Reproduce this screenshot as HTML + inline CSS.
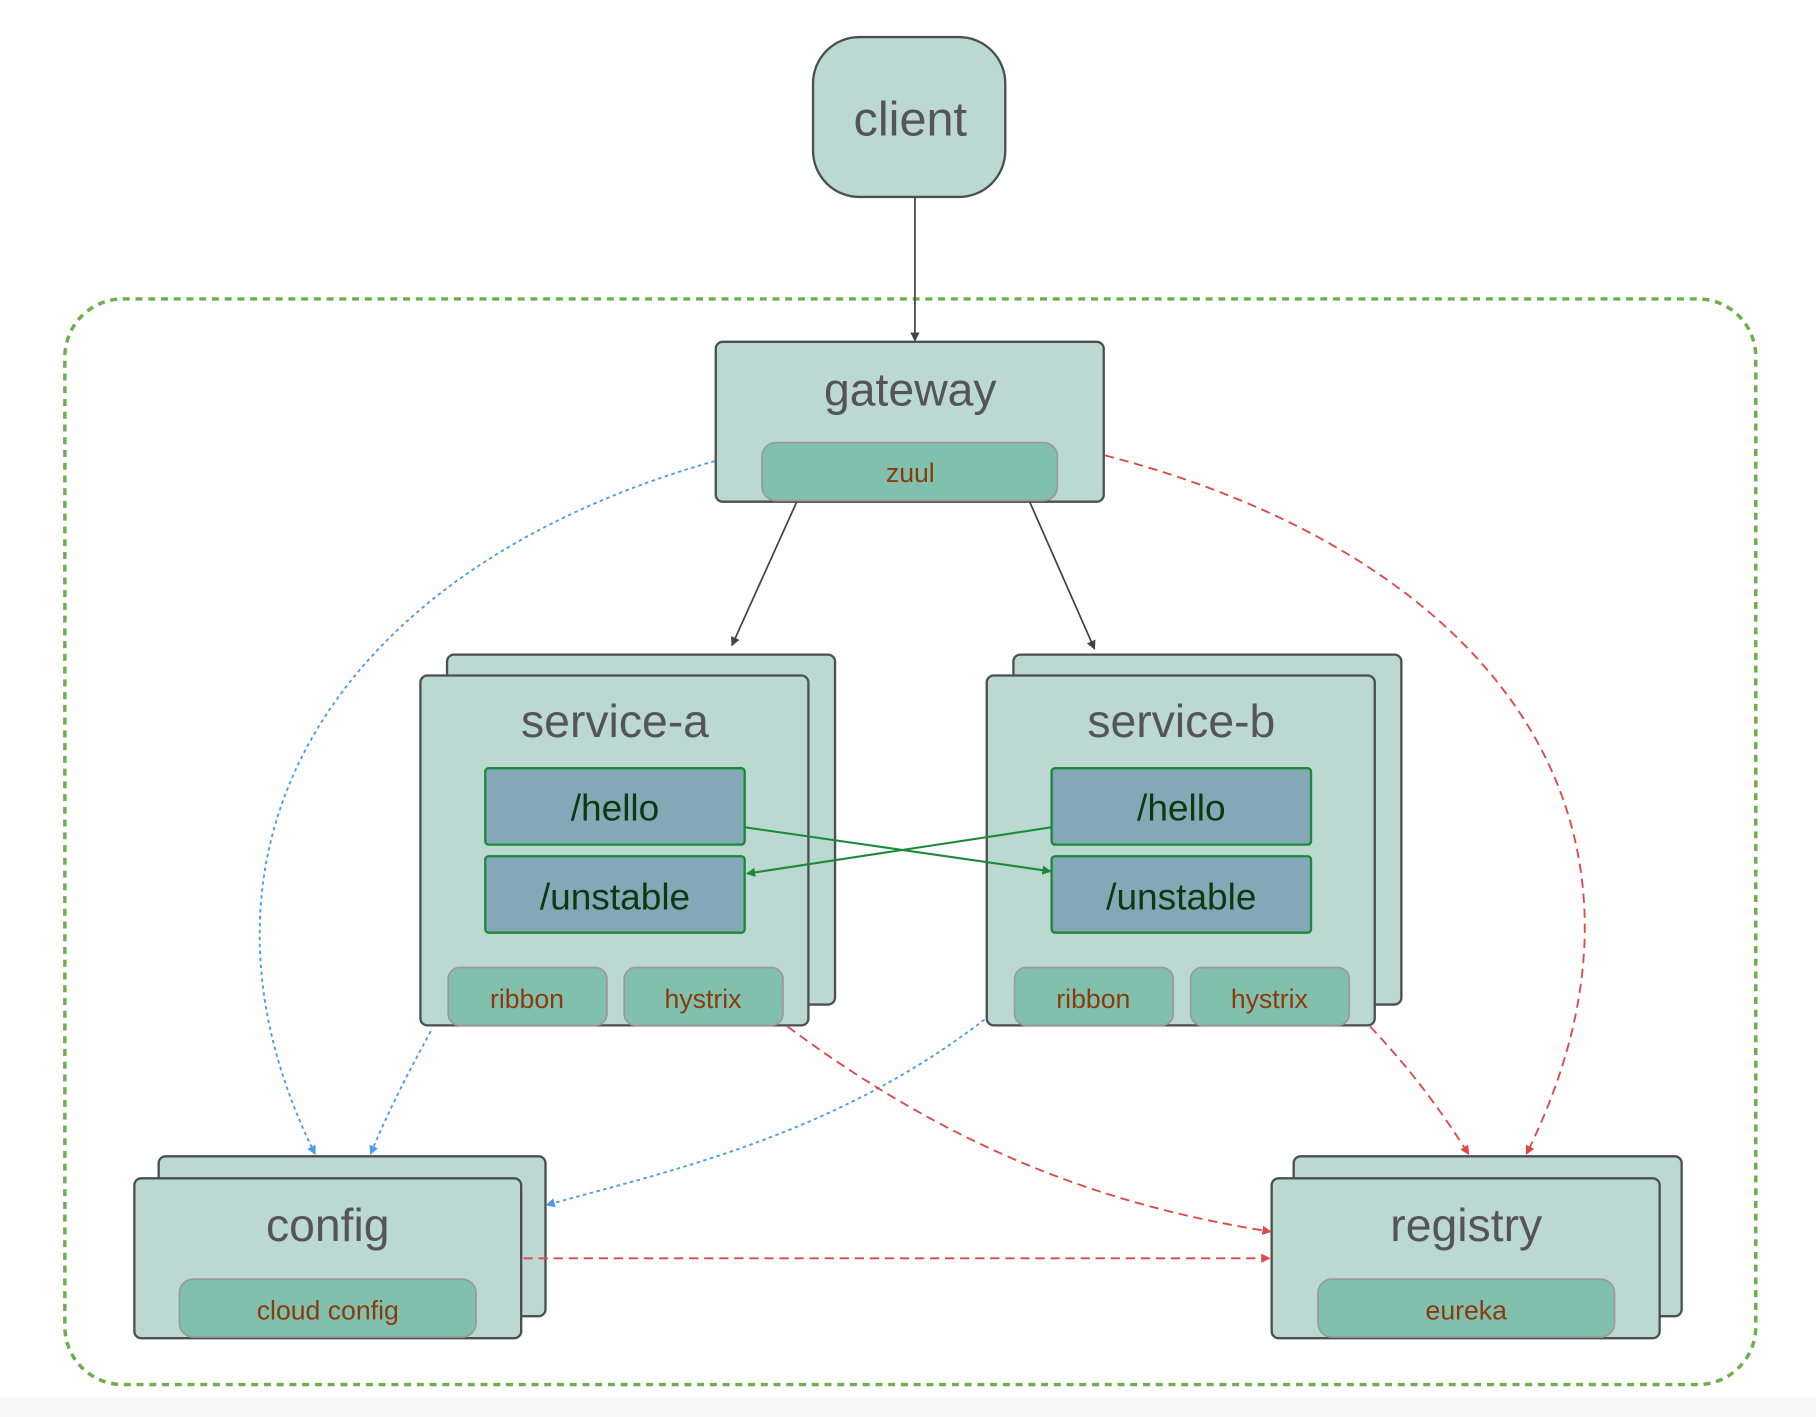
<!DOCTYPE html>
<html><head><meta charset="utf-8"><style>
html,body{margin:0;padding:0;background:#fff;}
svg{display:block;font-family:"Liberation Sans",sans-serif;}
</style></head><body>
<svg width="1816" height="1417" viewBox="0 0 1568 1223" preserveAspectRatio="none" xmlns="http://www.w3.org/2000/svg">
<defs>
<marker id="ag" markerWidth="8" markerHeight="8" refX="7" refY="4" orient="auto" markerUnits="userSpaceOnUse"><path d="M0,0 L8,4 L0,8 Z" fill="#444"/></marker>
<marker id="agr" markerWidth="8" markerHeight="8" refX="7" refY="4" orient="auto" markerUnits="userSpaceOnUse"><path d="M0,0 L8,4 L0,8 Z" fill="#1a8a3a"/></marker>
<marker id="ab" markerWidth="8" markerHeight="8" refX="7" refY="4" orient="auto" markerUnits="userSpaceOnUse"><path d="M0,0 L8,4 L0,8 Z" fill="#4a9be8"/></marker>
<marker id="ar" markerWidth="8" markerHeight="8" refX="7" refY="4" orient="auto" markerUnits="userSpaceOnUse"><path d="M0,0 L8,4 L0,8 Z" fill="#e04848"/></marker>
</defs>
<rect x="0" y="1206" width="1568" height="17" fill="#f7f7f7"/>
<rect x="56" y="258" width="1460" height="937" rx="50" fill="none" stroke="#6ab04c" stroke-width="3" stroke-dasharray="6,5"/>

<rect x="702" y="32" width="166" height="138" rx="40" fill="#bcd9d1" stroke="#4a4f52" stroke-width="2"/>
<text x="786" y="117" font-size="42" fill="#555" text-anchor="middle">client</text>
<line x1="790" y1="170" x2="790" y2="294" stroke="#444" stroke-width="1.5" marker-end="url(#ag)"/>

<rect x="618" y="295" width="335" height="138" rx="6" fill="#bcd9d1" stroke="#4a4f52" stroke-width="2"/>
<text x="786" y="350" font-size="40" fill="#555" text-anchor="middle">gateway</text>
<rect x="658" y="382" width="255" height="50" rx="12" fill="#80c0ac" stroke="#9a9a9a" stroke-width="1.5"/>
<text x="786" y="416" font-size="23" fill="#8b3a0e" text-anchor="middle">zuul</text>

<line x1="688" y1="433" x2="632" y2="557" stroke="#444" stroke-width="1.5" marker-end="url(#ag)"/>
<line x1="889" y1="433" x2="945" y2="560" stroke="#444" stroke-width="1.5" marker-end="url(#ag)"/>

<rect x="386" y="565" width="335" height="302" rx="6" fill="#bcd9d1" stroke="#4a4f52" stroke-width="2"/>
<rect x="363" y="583" width="335" height="302" rx="6" fill="#bcd9d1" stroke="#4a4f52" stroke-width="2"/>
<text x="531" y="636" font-size="40" fill="#555" text-anchor="middle">service-a</text>
<rect x="419" y="663" width="224" height="66" rx="3" fill="#85a8b8" stroke="#1a8a3a" stroke-width="2"/>
<text x="531" y="708" font-size="32" fill="#0a3a10" text-anchor="middle">/hello</text>
<rect x="419" y="739" width="224" height="66" rx="3" fill="#85a8b8" stroke="#1a8a3a" stroke-width="2"/>
<text x="531" y="785" font-size="32" fill="#0a3a10" text-anchor="middle">/unstable</text>
<rect x="387" y="835" width="137" height="50" rx="10" fill="#80c0ac" stroke="#9a9a9a" stroke-width="1.5"/>
<text x="455" y="870" font-size="23" fill="#8b3a0e" text-anchor="middle">ribbon</text>
<rect x="539" y="835" width="137" height="50" rx="10" fill="#80c0ac" stroke="#9a9a9a" stroke-width="1.5"/>
<text x="607" y="870" font-size="23" fill="#8b3a0e" text-anchor="middle">hystrix</text>

<rect x="875" y="565" width="335" height="302" rx="6" fill="#bcd9d1" stroke="#4a4f52" stroke-width="2"/>
<rect x="852" y="583" width="335" height="302" rx="6" fill="#bcd9d1" stroke="#4a4f52" stroke-width="2"/>
<text x="1020" y="636" font-size="40" fill="#555" text-anchor="middle">service-b</text>
<rect x="908" y="663" width="224" height="66" rx="3" fill="#85a8b8" stroke="#1a8a3a" stroke-width="2"/>
<text x="1020" y="708" font-size="32" fill="#0a3a10" text-anchor="middle">/hello</text>
<rect x="908" y="739" width="224" height="66" rx="3" fill="#85a8b8" stroke="#1a8a3a" stroke-width="2"/>
<text x="1020" y="785" font-size="32" fill="#0a3a10" text-anchor="middle">/unstable</text>
<rect x="876" y="835" width="137" height="50" rx="10" fill="#80c0ac" stroke="#9a9a9a" stroke-width="1.5"/>
<text x="944" y="870" font-size="23" fill="#8b3a0e" text-anchor="middle">ribbon</text>
<rect x="1028" y="835" width="137" height="50" rx="10" fill="#80c0ac" stroke="#9a9a9a" stroke-width="1.5"/>
<text x="1096" y="870" font-size="23" fill="#8b3a0e" text-anchor="middle">hystrix</text>

<line x1="643" y1="714" x2="907" y2="752" stroke="#1a8a3a" stroke-width="1.8" marker-end="url(#agr)"/>
<line x1="908" y1="714" x2="645" y2="754" stroke="#1a8a3a" stroke-width="1.8" marker-end="url(#agr)"/>

<rect x="137" y="998" width="334" height="138" rx="6" fill="#bcd9d1" stroke="#4a4f52" stroke-width="2"/>
<rect x="116" y="1017" width="334" height="138" rx="6" fill="#bcd9d1" stroke="#4a4f52" stroke-width="2"/>
<text x="283" y="1071" font-size="40" fill="#555" text-anchor="middle">config</text>
<rect x="155" y="1104" width="256" height="50" rx="12" fill="#80c0ac" stroke="#9a9a9a" stroke-width="1.5"/>
<text x="283" y="1139" font-size="23" fill="#8b3a0e" text-anchor="middle">cloud config</text>

<rect x="1117" y="998" width="335" height="138" rx="6" fill="#bcd9d1" stroke="#4a4f52" stroke-width="2"/>
<rect x="1098" y="1017" width="335" height="138" rx="6" fill="#bcd9d1" stroke="#4a4f52" stroke-width="2"/>
<text x="1266" y="1071" font-size="40" fill="#555" text-anchor="middle">registry</text>
<rect x="1138" y="1104" width="256" height="50" rx="12" fill="#80c0ac" stroke="#9a9a9a" stroke-width="1.5"/>
<text x="1266" y="1139" font-size="23" fill="#8b3a0e" text-anchor="middle">eureka</text>

<g fill="none" stroke="#4a9be8" stroke-width="1.6" stroke-dasharray="3,3">
<path d="M617,398 C290,490 140,730 272,996" marker-end="url(#ab)"/>
<path d="M372,890 C350,930 335,960 320,996" marker-end="url(#ab)"/>
<path d="M850,880 C720,980 580,1010 472,1040" marker-end="url(#ab)"/>
</g>
<g fill="none" stroke="#e04848" stroke-width="1.6" stroke-dasharray="8,5">
<path d="M954,393 C1290,480 1460,710 1318,996" marker-end="url(#ar)"/>
<path d="M680,886 C820,990 950,1040 1097,1063" marker-end="url(#ar)"/>
<path d="M1183,886 C1220,925 1245,960 1268,996" marker-end="url(#ar)"/>
<path d="M452,1086 L1096,1086" marker-end="url(#ar)"/>
</g>
</svg>
</body></html>
